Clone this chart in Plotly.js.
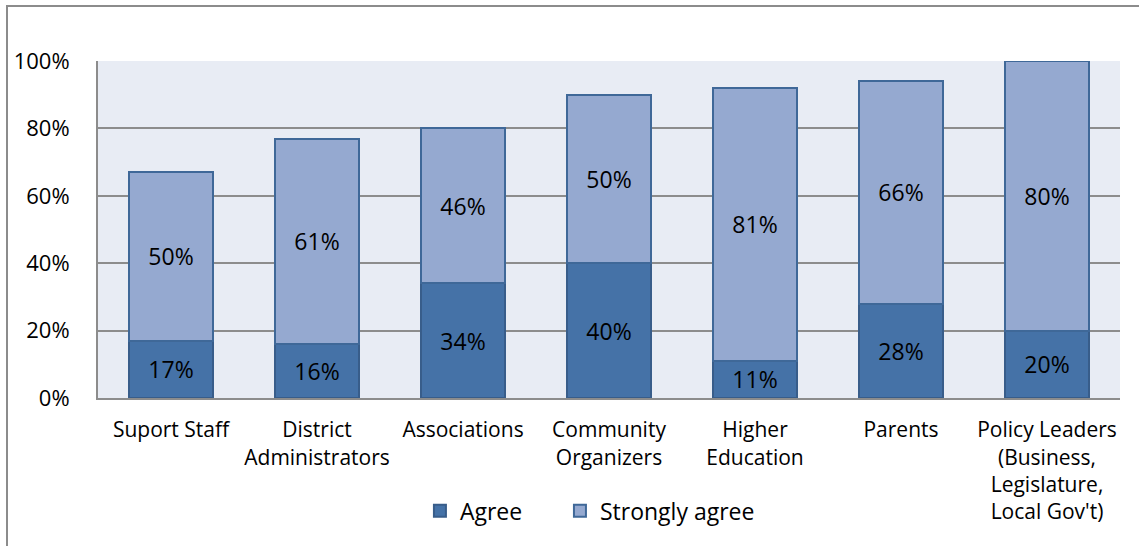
<!DOCTYPE html>
<html>
<head>
<meta charset="utf-8">
<script src="https://cdn.plot.ly/plotly-3.0.1.min.js"></script>
<style>
html,body{margin:0;padding:0;background:#fff;}
#wrap{position:relative;width:1139px;height:546px;}
#chart{position:absolute;left:0;top:0;width:1139px;height:546px;}
#frame{position:absolute;left:6px;top:5px;width:1140px;height:560px;border-left:2px solid #8c8c8c;border-top:2px solid #8c8c8c;pointer-events:none;}
</style>
</head>
<body>
<div id="wrap"><div id="chart"></div><div id="frame"></div></div>
<script>
const categories = ["Suport Staff", "District<br>Administrators", "Associations", "Community<br>Organizers", "Higher<br>Education", "Parents", "Policy Leaders<br>(Business,<br>Legislature,<br>Local Gov't)"];
const agree = [17, 16, 34, 40, 11, 28, 20];
const stronglyAgree = [50, 61, 46, 50, 81, 66, 80];
const seriesNames = ["Agree", "Strongly agree"];
const yTicks = [0, 20, 40, 60, 80, 100];

const font = "Open Sans, sans-serif";
const common = {
  type: "bar",
  x: categories,
  textposition: "inside",
  insidetextanchor: "middle",
  textangle: 0,
  constraintext: "none",
  textfont: {family: font, size: 23, color: "#000"},
  hoverinfo: "skip"
};
const data = [
  Object.assign({}, common, {y: agree, name: seriesNames[0], text: agree.map(v => v + "%"),
    legend: "legend",
    marker: {color: "#4572A7", line: {color: "#385D8A", width: 2}}}),
  Object.assign({}, common, {y: stronglyAgree, name: seriesNames[1], text: stronglyAgree.map(v => v + "%"),
    legend: "legend2",
    marker: {color: "#95A9D0", line: {color: "#3F6898", width: 2}}})
];
const legendCommon = {orientation: "h", xanchor: "left", y: -0.335, yanchor: "middle",
  font: {family: font, size: 23, color: "#000"}, itemwidth: 30, bgcolor: "rgba(0,0,0,0)"};
const layout = {
  width: 1139, height: 546,
  margin: {l: 98, r: 19, t: 61, b: 148},
  barmode: "stack",
  bargap: 0.43,
  paper_bgcolor: "#ffffff",
  plot_bgcolor: "#E8ECF4",
  font: {family: font, color: "#000"},
  showlegend: true,
  legend: Object.assign({}, legendCommon, {x: 0.315}),
  legend2: Object.assign({}, legendCommon, {x: 0.452}),
  xaxis: {
    tickfont: {family: font, size: 21, color: "#000"},
    showline: true, linecolor: "#8c8c8c", linewidth: 2,
    ticks: "outside", ticklen: 12, tickcolor: "rgba(0,0,0,0)", showgrid: false, fixedrange: true
  },
  yaxis: {
    range: [0, 100], tickvals: yTicks, ticktext: yTicks.map(v => v + "%"),
    tickfont: {family: font, size: 22, color: "#000"},
    showgrid: true, gridcolor: "#8c8c8c", gridwidth: 2,
    showline: true, linecolor: "#8c8c8c", linewidth: 2,
    zeroline: false, ticks: "outside", ticklen: 22, tickcolor: "rgba(0,0,0,0)", fixedrange: true
  }
};
Plotly.newPlot("chart", data, layout, {displayModeBar: false, staticPlot: true});
</script>
</body>
</html>
